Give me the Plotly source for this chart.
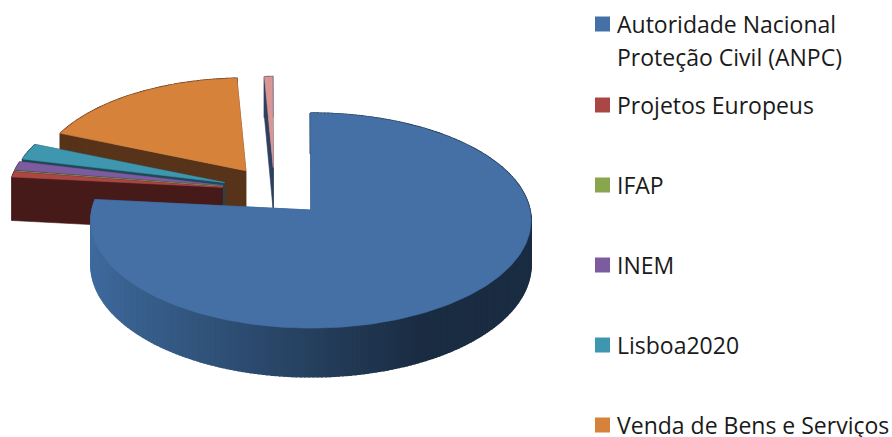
import math
import plotly.graph_objects as go

categories = ["Autoridade Nacional<br>Proteção Civil (ANPC)", "Projetos Europeus", "IFAP", "INEM",
              "Lisboa2020", "Venda de Bens e Serviços", "Outros"]
values = [76.7, 0.8, 0.05, 1.3, 2.5, 18.0, 0.7]
top_colors = ["#4470A6", "#AA4643", "#89A54E", "#7C5B9F", "#3F97AF", "#D6823B", "#D99694"]
wall_colors = ["#2F5078", "#461A18", "#4F5F2C", "#46335C", "#1C4A58", "#57331A", "#2F3F5F"]
explode = [0.248, 0.24, 0.24, 0.24, 0.24, 0.227, 0.217]
radius = [1.0, 0.975, 0.975, 0.975, 0.97, 0.95, 0.93]
legend_y = [105, 185, 265, 345, 425]

W, H = 892, 437
CX, CY = 274.5, 190.5      # centre of the un-exploded pie, px
A, B, P, DEPTH = 106.5, 219.0, 0.0977, 44.0
START = -0.2

def project(ax, ay, u, v, drop=0.0):
    w = 1 + P * v
    return ax + B * u / w, ay - A * v / w + drop / w

def lerp_hex(c1, c2, t):
    a = [int(c1[i:i + 2], 16) for i in (1, 3, 5)]
    b = [int(c2[i:i + 2], 16) for i in (1, 3, 5)]
    return "#%02x%02x%02x" % tuple(round(x + (y - x) * t) for x, y in zip(a, b))

fig = go.Figure()

def poly(points, color, lw=0.6):
    fig.add_trace(go.Scatter(x=[p[0] for p in points] + [points[0][0]],
                             y=[p[1] for p in points] + [points[0][1]],
                             mode="lines", fill="toself", fillcolor=color,
                             line=dict(color=color, width=lw),
                             hoverinfo="skip", showlegend=False))

total = sum(values)
slices = []
ang = START
for i, val in enumerate(values):
    sweep = val / total * 360
    slices.append((i, ang, ang + sweep))
    ang += sweep

# back-to-front painting order
order = [5, 6, 4, 3, 2, 1, 0]
for i, a0, a1 in (slices[k] for k in order):
    mid = math.radians((a0 + a1) / 2)
    ax = CX + B * explode[i] * math.sin(mid)
    ay = CY - A * explode[i] * math.cos(mid)
    r = radius[i]
    n = max(2, int((a1 - a0) / 1.0))
    angs = [math.radians(a0 + (a1 - a0) * k / n) for k in range(n + 1)]
    rim = [(r * math.sin(t), r * math.cos(t)) for t in angs]
    # radial cut faces
    for t in (angs[0], angs[-1]):
        uo, vo = r * math.sin(t), r * math.cos(t)
        poly([project(ax, ay, 0, 0), project(ax, ay, uo, vo),
              project(ax, ay, uo, vo, DEPTH), project(ax, ay, 0, 0, DEPTH)], wall_colors[i])
    # outer rim wall
    for k in range(n):
        (u0, v0), (u1, v1) = rim[k], rim[k + 1]
        if i == 0:
            xm = (u0 + u1) / 2
            col = lerp_hex("#3F6B9E", "#1A2C42", min(1.0, (xm + 1) / 1.45))
        else:
            col = wall_colors[i]
        poly([project(ax, ay, u0, v0), project(ax, ay, u1, v1),
              project(ax, ay, u1, v1, DEPTH), project(ax, ay, u0, v0, DEPTH)], col, lw=1.5)
    # top face
    poly([project(ax, ay, 0, 0)] + [project(ax, ay, u, v) for u, v in rim], top_colors[i])

# legend swatches and labels
rows = [24] + legend_y
annotations = []
for j in range(6):
    fig.add_trace(go.Scatter(x=[602.5], y=[rows[j]], mode="markers",
                             marker=dict(symbol="square", size=15, color=top_colors[j], line=dict(width=0)),
                             name=categories[j].replace("<br>", " "), hoverinfo="name", showlegend=False))
    y = rows[j]
    for line in categories[j].split("<br>"):
        annotations.append(dict(x=615, y=y, text=line, xref="x", yref="y", xanchor="left", yanchor="middle",
                                showarrow=False, font=dict(family="Open Sans", size=23, color="#1a1a1a")))
        y += 33

fig.update_layout(width=W, height=H, autosize=False, margin=dict(l=0, r=0, t=0, b=0),
                  paper_bgcolor="white", plot_bgcolor="white", annotations=annotations,
                  xaxis=dict(range=[0, W], visible=False, fixedrange=True),
                  yaxis=dict(range=[H, 0], visible=False, fixedrange=True))
fig.write_html("out.html", config=dict(displayModeBar=False),
               post_script="document.body.style.margin='0';document.documentElement.style.overflow='hidden';")
